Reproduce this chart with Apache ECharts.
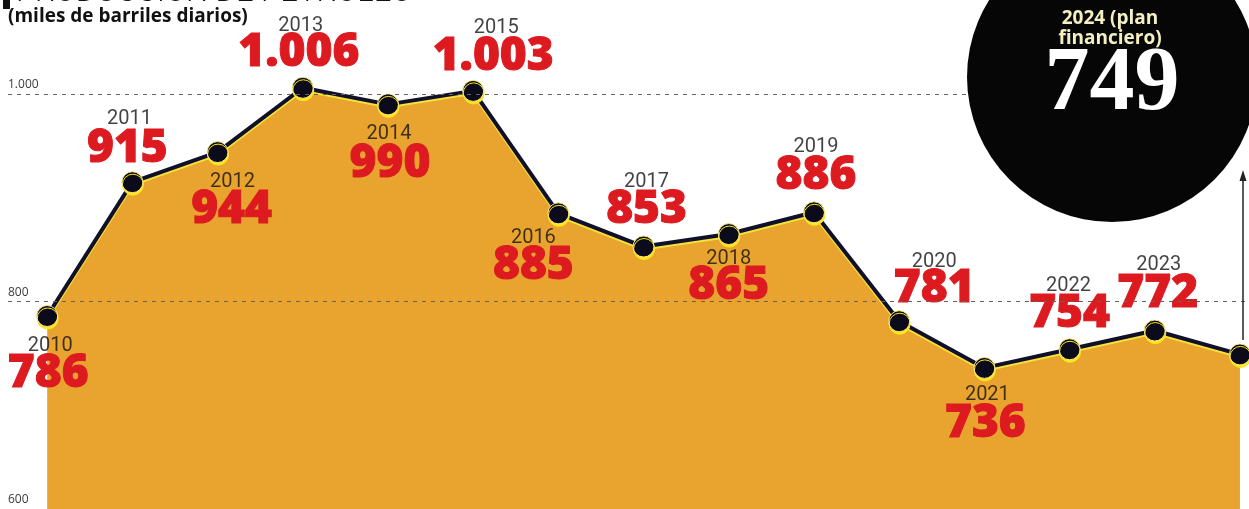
<!DOCTYPE html>
<html>
<head>
<meta charset="utf-8">
<script src="https://cdn.jsdelivr.net/npm/echarts@6/dist/echarts.min.js"></script>
<style>
html,body{margin:0;padding:0;background:#fff;}
#c{width:1249px;height:509px;}
</style>
</head>
<body>
<div id="c"></div>
<script>
// ---- data ----
const years = [2010, 2011, 2012, 2013, 2014, 2015, 2016, 2017, 2018, 2019, 2020, 2021, 2022, 2023, 2024];
const values = [786, 915, 944, 1006, 990, 1003, 885, 853, 865, 886, 781, 736, 754, 772, 749];
const yTicks = [600, 800, 1000];
const titleText = 'PRODUCCIÓN DE PETRÓLEO';
const subtitleText = '(miles de barriles diarios)';
const planLabel = '2024 (plan\nfinanciero)';

// ---- layout (label offsets relative to each point) ----
const valueOffsets = [[1,58],[-5,-33],[14,58],[-4,-35],[2,60],[20,-34],[-25,53],[3,-37],[0,52],[2,-36],[35,-32],[1,56],[0,-35],[3,-37],null];
const yearOffsets  = [[3,30],[-3,-63],[15,30],[-2,-62],[1,30],[23,-63],[-25,25],[3,-65],[0,25],[2,-65],[35,-59],[3,27],[-1,-63],[4,-66],null];

function fmt(v){ return v >= 1000 ? Math.floor(v/1000) + '.' + String(v%1000).padStart(3,'0') : String(v); }

const pts = years.map((y,i)=>[y, values[i]]);

const valueData = pts.map((p,i)=>({
  value: p,
  label: valueOffsets[i] ? {show:true, offset: valueOffsets[i]} : {show:false}
}));
const yearData = pts.map((p,i)=>({
  value: p,
  label: yearOffsets[i] ? {show:true, offset: yearOffsets[i]} : {show:false}
}));

const chart = echarts.init(document.getElementById('c'), null, {renderer:'canvas'});
const last = values.length - 1;

chart.setOption({
  backgroundColor: '#ffffff',
  animation: false,
  grid: {left: 8, right: 0, top: 94, height: 417, containLabel: false},
  xAxis: {
    type: 'value', min: 2009.54, max: 2024.106,
    show: false
  },
  yAxis: {
    type: 'value', min: yTicks[0], max: yTicks[yTicks.length-1], interval: 200,
    axisLine: {show:false}, axisTick: {show:false},
    splitLine: {show:false},
    axisLabel: {
      inside: true, margin: 0, align: 'left', verticalAlign: 'bottom',
      padding: [0,0,3,0],
      color: '#3a3a3a', fontSize: 12, fontFamily: 'Open Sans',
      formatter: v => fmt(v)
    },
    z: 10
  },
  series: [
    {
      type: 'line',
      data: valueData,
      clip: false,
      symbol: 'circle',
      symbolSize: 21,
      z: 3,
      lineStyle: {color: '#10102a', width: 4, shadowColor: '#f6e23a', shadowOffsetY: 2, shadowBlur: 0},
      itemStyle: {color: '#0b0b1c', borderColor: '#f7ea80', borderWidth: 1, shadowColor: '#ffe61a', shadowOffsetY: 2.5, shadowOffsetX: 0.5, shadowBlur: 0},
      areaStyle: {color: '#e9a430', opacity: 1},
      label: {
        position: 'inside',
        formatter: p => fmt(p.value[1]),
        color: '#dc1a20',
        fontFamily: 'Open Sans',
        fontWeight: 800,
        fontSize: 46,
        textBorderColor: '#dc1a20',
        textBorderWidth: 1
      },
      markLine: {
        silent: true,
        symbol: 'none',
        label: {show:false},
        lineStyle: {color: '#6a6258', type: [4,5], width: 1},
        data: [{yAxis: 1000}, {yAxis: 800}],
        z: 4
      }
    },
    {
      type: 'scatter',
      data: yearData,
      clip: false,
      symbolSize: 1,
      itemStyle: {color: 'rgba(0,0,0,0)'},
      z: 5,
      label: {
        position: 'inside',
        formatter: p => String(p.value[0]),
        color: '#151212',
        fontFamily: 'Roboto',
        fontWeight: 'normal',
        fontSize: 20
      }
    }
  ],
  graphic: [
    {type:'rect', shape:{x:3, y:-2, width:7, height:11}, style:{fill:'#111'}, z:20},
    {type:'text', x:16, y:9, style:{text:titleText, fill:'#111', font:'300 31px Roboto', textVerticalAlign:'bottom'}, z:20},
    {type:'text', x:8, y:17, style:{text:subtitleText, fill:'#111', font:'bold 19px "Open Sans"', textVerticalAlign:'middle'}, z:20},
    {type:'circle', shape:{cx:1112, cy:77, r:145}, style:{fill:'#060606'}, z:30},
    {type:'text', x:1110, y:29, style:{text:planLabel, fill:'#f3efc0', font:'bold 19px "Open Sans"', textAlign:'center', textVerticalAlign:'middle', lineHeight:20}, z:31},
    {type:'text', x:1112, y:86, style:{text:String(values[last]), fill:'#ffffff', font:'bold 90px "Liberation Serif"', textAlign:'center', textVerticalAlign:'middle'}, z:31},
    {type:'line', shape:{x1:1243, y1:180, x2:1243, y2:340}, style:{stroke:'#222', lineWidth:1.5}, z:20},
    {type:'polygon', shape:{points:[[1243,170],[1239.5,181],[1246.5,181]]}, style:{fill:'#222'}, z:20}
  ]
});
</script>
</body>
</html>
